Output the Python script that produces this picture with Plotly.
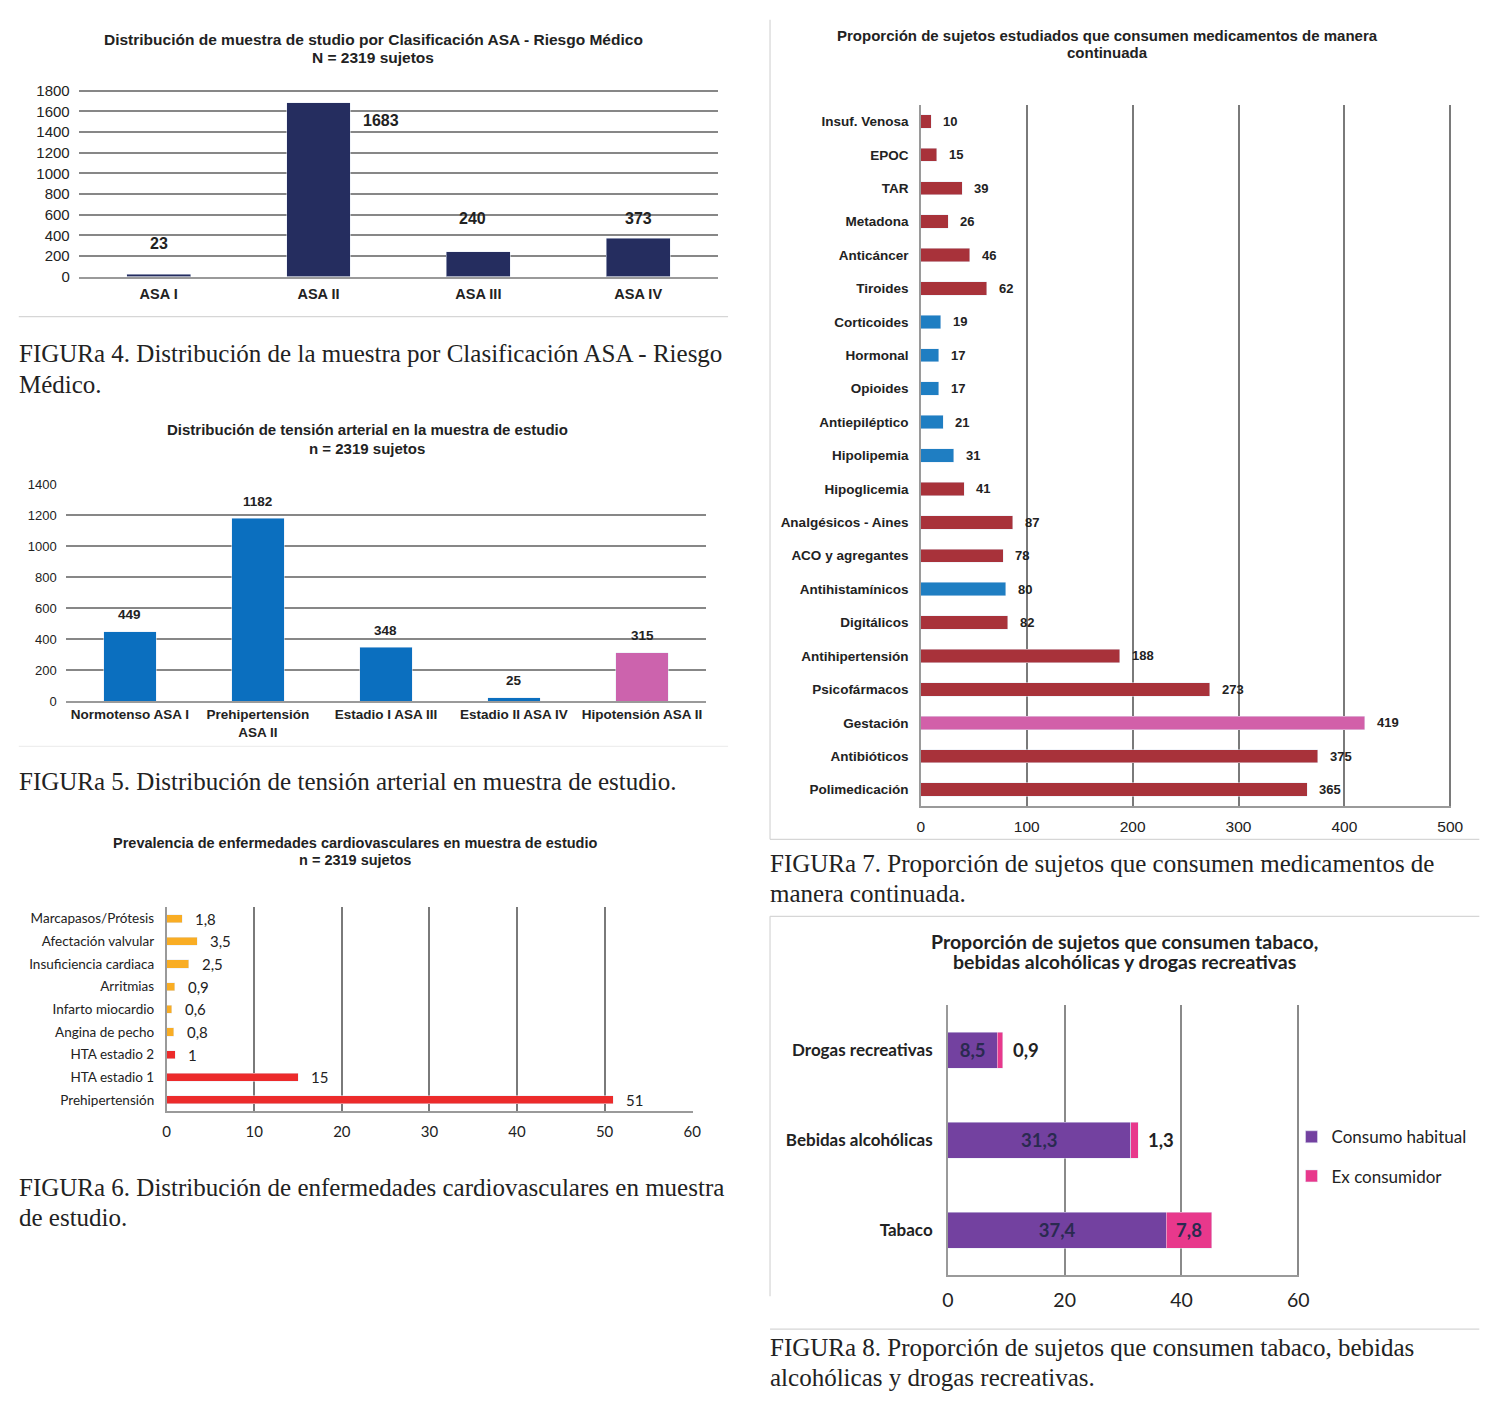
import plotly.graph_objects as go

W, H = 1500, 1401
# compensation for the capture's slight scale/offset (measured on previous render)
S, OX, OY = 0.989, 5.2, 6.3
def fx(px): return ((px - OX) / S) / W
def fy(py): return 1 - ((py - OY) / S) / H

# ---------------- data ----------------
asa_cats = ["ASA I", "ASA II", "ASA III", "ASA IV"]
asa_vals = [23, 1683, 240, 373]

ta_cats = ["Normotenso ASA I", "Prehipertensión<br>ASA II", "Estadio I ASA III",
           "Estadio II ASA IV", "Hipotensión ASA II"]
ta_vals = [449, 1182, 348, 25, 315]
ta_group = ["n", "n", "n", "n", "h"]

cv_cats = ["Marcapasos/Prótesis", "Afectación valvular", "Insuficiencia cardiaca",
           "Arritmias", "Infarto miocardio", "Angina de pecho", "HTA estadio 2",
           "HTA estadio 1", "Prehipertensión"]
cv_vals = [1.8, 3.5, 2.5, 0.9, 0.6, 0.8, 1, 15, 51]
cv_group = ["c", "c", "c", "c", "c", "c", "h", "h", "h"]

med_cats = ["Insuf. Venosa", "EPOC", "TAR", "Metadona", "Anticáncer", "Tiroides",
            "Corticoides", "Hormonal", "Opioides", "Antiepiléptico", "Hipolipemia",
            "Hipoglicemia", "Analgésicos - Aines", "ACO y agregantes", "Antihistamínicos",
            "Digitálicos", "Antihipertensión", "Psicofármacos", "Gestación",
            "Antibióticos", "Polimedicación"]
med_vals = [10, 15, 39, 26, 46, 62, 19, 17, 17, 21, 31, 41, 87, 78, 80, 82, 188, 273,
            419, 375, 365]
med_group = ["r", "r", "r", "r", "r", "r", "b", "b", "b", "b", "b", "r", "r", "r", "b",
             "r", "r", "r", "p", "r", "r"]

sub_cats = ["Drogas recreativas", "Bebidas alcohólicas", "Tabaco"]
sub_habitual = [8.5, 31.3, 37.4]
sub_ex = [0.9, 1.3, 7.8]
sub_names = ["Consumo habitual", "Ex consumidor"]

# ---------------- style ----------------
SANS = "Liberation Sans"
CAL = "Lato"
SERIF = "Liberation Serif"
TXT = "#222222"
GRID = "#878787"

def comma(v):
    s = ("%g" % v)
    return s.replace(".", ",")

fig = go.Figure()
ann = []

# ---- Figure 4 ----
fig.add_trace(go.Bar(x=asa_cats, y=asa_vals, marker_color="#252d5f", width=0.4,
                     xaxis="x", yaxis="y", showlegend=False))
asa_dx = [0, 63, -6, 0]
asa_dy = [31, -18, 33, 20]
for c, v, dx, dy in zip(asa_cats, asa_vals, asa_dx, asa_dy):
    ann.append(dict(x=c, y=v, xref="x", yref="y", text="<b>%d</b>" % v, showarrow=False,
                    xshift=dx, yshift=dy, font=dict(family=SANS, size=16, color=TXT),
                    yanchor="middle"))

# ---- Figure 5 ----
ta_colors = {"n": "#0b6fbf", "h": "#cc63ad"}
fig.add_trace(go.Bar(x=ta_cats, y=ta_vals, marker_color=[ta_colors[g] for g in ta_group],
                     width=0.41, xaxis="x2", yaxis="y2", showlegend=False))
for c, v in zip(ta_cats, ta_vals):
    ann.append(dict(x=c, y=v, xref="x2", yref="y2", text="<b>%d</b>" % v, showarrow=False,
                    yshift=17, font=dict(family=SANS, size=13.5, color=TXT), yanchor="middle"))

# ---- Figure 6 ----
cv_colors = {"c": "#f9ad24", "h": "#ec2b2b"}
fig.add_trace(go.Bar(y=cv_cats, x=cv_vals, orientation="h",
                     marker_color=[cv_colors[g] for g in cv_group], width=0.36,
                     xaxis="x3", yaxis="y3", showlegend=False))
for c, v in zip(cv_cats, cv_vals):
    ann.append(dict(x=v, y=c, xref="x3", yref="y3", text=comma(v), showarrow=False,
                    xshift=11, xanchor="left", font=dict(family=CAL, size=15, color=TXT)))

# ---- Figure 7 ----
med_colors = {"r": "#a8323a", "b": "#1f7ec2", "p": "#d260a9"}
fig.add_trace(go.Bar(y=med_cats, x=med_vals, orientation="h",
                     marker_color=[med_colors[g] for g in med_group], width=0.4,
                     xaxis="x4", yaxis="y4", showlegend=False))
for c, v in zip(med_cats, med_vals):
    ann.append(dict(x=v, y=c, xref="x4", yref="y4", text="<b>%d</b>" % v, showarrow=False,
                    xshift=10, xanchor="left", font=dict(family=SANS, size=13, color=TXT)))

# ---- Figure 8 ----
fig.add_trace(go.Bar(y=sub_cats, x=sub_habitual, orientation="h", name=sub_names[0],
                     marker_color="#7341a0", width=0.4, xaxis="x5", yaxis="y5",
                     text=["<b>%s</b>" % comma(v) for v in sub_habitual],
                     textposition="inside", insidetextanchor="middle",
                     textfont=dict(family=CAL, size=18.5, color="#2a2a50"),
                     legendgroup="a"))
fig.add_trace(go.Bar(y=sub_cats, x=sub_ex, orientation="h", name=sub_names[1],
                     marker_color="#e8388c", width=0.4, xaxis="x5", yaxis="y5",
                     text=["<b>%s</b>" % comma(v) if v > 3 else "" for v in sub_ex],
                     textposition="inside", insidetextanchor="middle",
                     textfont=dict(family=CAL, size=18.5, color="#2a2a50"),
                     legendgroup="b"))
for c, h, e in zip(sub_cats, sub_habitual, sub_ex):
    if e <= 3:
        ann.append(dict(x=h + e, y=c, xref="x5", yref="y5", text="<b>%s</b>" % comma(e),
                        showarrow=False, xshift=8, xanchor="left",
                        font=dict(family=CAL, size=18.5, color=TXT)))

# ---- titles (one annotation per line for exact line spacing) ----
def title(x, y0, lines, size, gap, fam=SANS):
    for i, t in enumerate(lines):
        ann.append(dict(x=fx(x), y=fy(y0 + i * gap), xref="paper", yref="paper",
                        text="<b>%s</b>" % t, showarrow=False, xanchor="center",
                        yanchor="middle", font=dict(family=fam, size=size, color=TXT)))

title(373, 38, ["Distribución de muestra de studio por Clasificación ASA - Riesgo Médico",
                "N = 2319 sujetos"], 15.5, 18)
title(367, 428, ["Distribución de tensión arterial en la muestra de estudio",
                 "n = 2319 sujetos"], 15, 19)
title(355, 842, ["Prevalencia de enfermedades cardiovasculares en muestra de estudio",
                 "n = 2319 sujetos"], 14.5, 17)
title(1108, 34, ["Proporción de sujetos estudiados que consumen medicamentos de manera",
                 "continuada"], 15, 17)
title(1125, 940, ["Proporción de sujetos que consumen tabaco,",
                  "bebidas alcohólicas y drogas recreativas"], 19.5, 20, CAL)

# ---- captions ----
def caption(x, y0, lines):
    for i, t in enumerate(lines):
        ann.append(dict(x=fx(x), y=fy(y0 + i * 30.5), xref="paper", yref="paper", text=t,
                        showarrow=False, xanchor="left", yanchor="middle", align="left",
                        font=dict(family=SERIF, size=25, color=TXT)))

caption(16, 352, ["FIGURa 4. Distribución de la muestra por Clasificación ASA - Riesgo",
                  "Médico."])
caption(16, 780, ["FIGURa 5. Distribución de tensión arterial en muestra de estudio."])
caption(16, 1186, ["FIGURa 6. Distribución de enfermedades cardiovasculares en muestra",
                   "de estudio."])
caption(768, 862, ["FIGURa 7. Proporción de sujetos que consumen medicamentos de",
                   "manera continuada."])
caption(768, 1346, ["FIGURa 8. Proporción de sujetos que consumen tabaco, bebidas",
                    "alcohólicas y drogas recreativas."])

# ---- panel lines ----
shapes = []
def line(x0, y0, x1, y1, color="#d6d6d6", w=1.2):
    shapes.append(dict(type="line", xref="paper", yref="paper", x0=fx(x0), y0=fy(y0),
                       x1=fx(x1), y1=fy(y1), line=dict(color=color, width=w)))

line(18, 315, 728, 315)
line(18, 745, 728, 745, "#eeeeee")
line(770, 18, 770, 838)
line(770, 838, 1480, 838)
line(770, 915, 1480, 915)
line(770, 915, 770, 1295)
line(770, 1328, 1480, 1328)

# ---- axes ----
def cat_axis(domain, anchor, **kw):
    d = dict(domain=domain, anchor=anchor, type="category", showgrid=False,
             showline=True, linecolor="#9a9a9a", linewidth=1.5, ticks="", zeroline=False)
    d.update(kw)
    return d

def val_axis(domain, anchor, rng, dtick, **kw):
    d = dict(domain=domain, anchor=anchor, range=rng, dtick=dtick, showgrid=True,
             gridcolor=GRID, gridwidth=2, showline=True, linecolor="#9a9a9a",
             linewidth=1.5, zeroline=False, ticks="")
    d.update(kw)
    return d

layout = dict(
    width=W, height=H, margin=dict(l=0, r=0, t=0, b=0),
    paper_bgcolor="white", plot_bgcolor="white", barmode="stack",
    annotations=ann, shapes=shapes,
    legend=dict(x=fx(1292), y=fy(1118), xanchor="left", yanchor="top",
                font=dict(family=CAL, size=17, color=TXT), tracegroupgap=14,
                itemwidth=30, bgcolor="rgba(0,0,0,0)"),
    # fig 4
    xaxis=cat_axis([fx(78), fx(718)], "y", tickfont=dict(family=SANS, size=14.5, color=TXT),
                   tickprefix="<b>", ticksuffix="</b>", ticklabelstandoff=3),
    yaxis=val_axis([fy(275), fy(88)], "x", [0, 1810], 200,
                   tickfont=dict(family=SANS, size=15, color=TXT), showline=False,
                   ticklabelstandoff=8),
    # fig 5
    xaxis2=cat_axis([fx(65), fx(706)], "y2", tickfont=dict(family=SANS, size=13.5, color=TXT),
                    tickprefix="<b>", ticksuffix="</b>"),
    yaxis2=val_axis([fy(700), fy(482)], "x2", [0, 1406], 200,
                    tickfont=dict(family=SANS, size=13, color=TXT), showline=False,
                    ticklabelstandoff=8),
    # fig 6
    xaxis3=val_axis([fx(166), fx(693)], "y3", [0, 60.1], 10,
                    tickfont=dict(family=CAL, size=15, color=TXT), gridcolor="#7a7a7a",
                    ticklabelstandoff=6),
    yaxis3=cat_axis([fy(1110), fy(906)], "x3", autorange="reversed",
                    tickfont=dict(family=CAL, size=13.5, color=TXT), ticklabelstandoff=8),
    # fig 7
    xaxis4=val_axis([fx(921), fx(1452)], "y4", [0, 501], 100,
                    tickfont=dict(family=SANS, size=15.5, color=TXT), gridcolor="#7a7a7a",
                    ticklabelstandoff=5),
    yaxis4=cat_axis([fy(805), fy(103)], "x4", autorange="reversed",
                    tickfont=dict(family=SANS, size=13.5, color=TXT),
                    tickprefix="<b>", ticksuffix="</b>", ticklabelstandoff=8),
    # fig 8
    xaxis5=val_axis([fx(948), fx(1300)], "y5", [0, 60.2], 20,
                    tickfont=dict(family=CAL, size=19.5, color=TXT), gridcolor="#8a8a8a",
                    ticklabelstandoff=7),
    yaxis5=cat_axis([fy(1274), fy(1004)], "x5", autorange="reversed",
                    tickfont=dict(family=CAL, size=17, color=TXT),
                    tickprefix="<b>", ticksuffix="</b>", ticklabelstandoff=10),
)
fig.update_layout(**layout)
fig.write_html("out.html", config={"displayModeBar": False},
               post_script="document.body.style.margin='0';"
                           "document.documentElement.style.overflow='hidden';"
                           "document.body.style.overflow='hidden';")
